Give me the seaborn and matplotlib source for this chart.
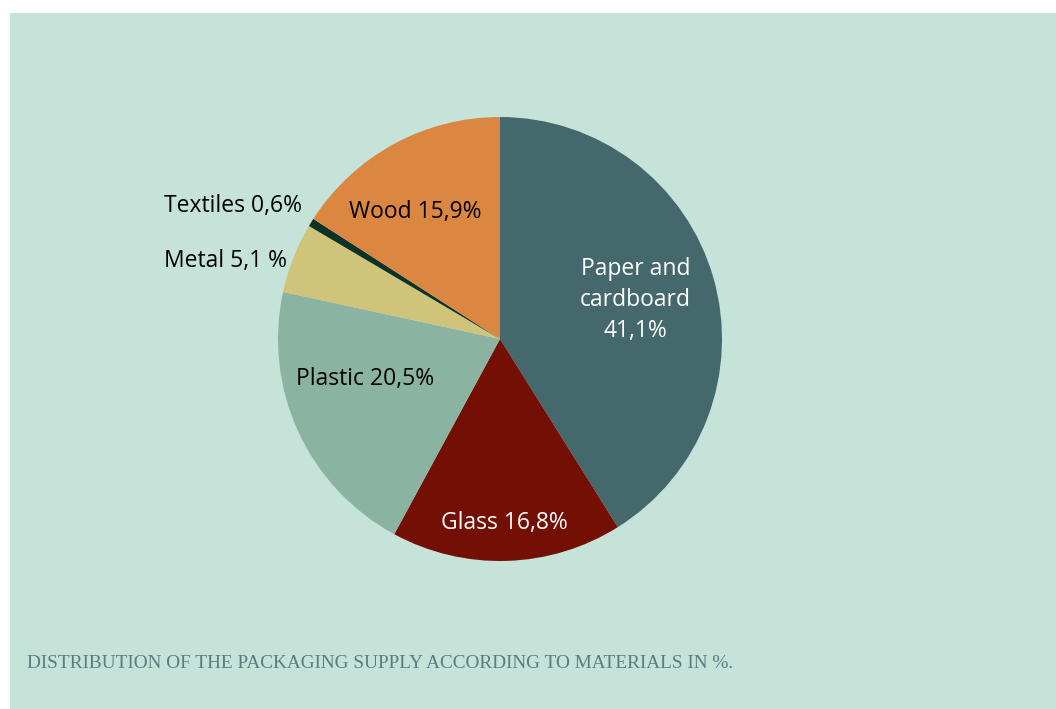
import matplotlib
matplotlib.use('Agg')
import matplotlib.pyplot as plt
import seaborn as sns
from matplotlib.patches import Rectangle

# Data
materials = ['Paper and\ncardboard', 'Glass', 'Plastic', 'Metal', 'Textiles', 'Wood']
shares = [41.1, 16.8, 20.5, 5.1, 0.6, 15.9]
label_texts = ['Paper and\ncardboard\n41,1%', 'Glass 16,8%', 'Plastic 20,5%',
               'Metal 5,1 %', 'Textiles 0,6%', 'Wood 15,9%']
colors = ['#45686d', '#740f04', '#8bb3a1', '#cfc479', '#0e3324', '#dc8741']
text_colors = ['white', 'white', 'black', 'black', 'black', 'black']
# label anchors in pie units (radius = 1)
label_xy = [(0.61, 0.175), (0.02, -0.83), (-0.61, -0.18),
            (-0.96, 0.35), (-0.89, 0.60), (-0.38, 0.57)]
label_ha = ['center', 'center', 'center', 'right', 'right', 'center']

sns.set_theme(style='white')
plt.rcParams['font.family'] = ['Open Sans', 'DejaVu Sans']

bg = '#c6e3da'
fig = plt.figure(figsize=(10.56, 7.09), dpi=100)
fig.patch.set_facecolor('white')
fig.patches.append(Rectangle((10 / 1056, 0), 1, 696 / 709, transform=fig.transFigure,
                             facecolor=bg, edgecolor='none', zorder=-5))

r = 222
cx, cy = 500, 709 - 339
ax = fig.add_axes([(cx - r) / 1056, (cy - r) / 709, 2 * r / 1056, 2 * r / 709])
ax.set_facecolor('none')
ax.set_zorder(2)
ax.pie(shares, colors=colors, startangle=90, counterclock=False, radius=1,
       wedgeprops=dict(linewidth=0))
ax.set_xlim(-1, 1)
ax.set_ylim(-1, 1)
ax.axis('off')

for txt, (x, y), c, ha in zip(label_texts, label_xy, text_colors, label_ha):
    ax.text(x, y, txt, ha=ha, va='center', color=c, fontsize=16.5,
            linespacing=1.38, clip_on=False)

fig.text(27 / 1056, 1 - 663 / 709, 'DISTRIBUTION OF THE PACKAGING SUPPLY ACCORDING TO MATERIALS IN %.',
         ha='left', va='center', color='#5a7d80', fontsize=13.9, family='Liberation Serif')

fig.savefig('out.png', dpi=100, facecolor=fig.get_facecolor())
